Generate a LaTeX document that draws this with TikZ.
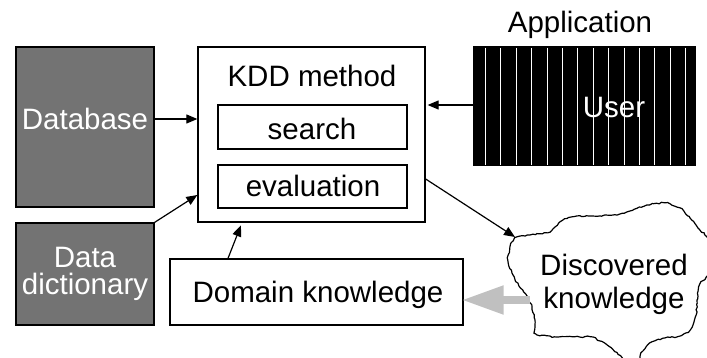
\documentclass[tikz,border=0pt]{standalone}
\usepackage{fontspec}
\setmainfont{Liberation Sans}
\usetikzlibrary{arrows.meta,decorations.pathmorphing}

\definecolor{boxgray}{RGB}{115,115,115}
\definecolor{arrowgray}{RGB}{192,192,192}

\begin{document}
\begin{tikzpicture}[x=1pt,y=1pt,yscale=-1,
  every node/.style={font=\fontsize{29.5}{33}\selectfont},
  box/.style={draw,line width=1.3pt,inner sep=0pt},
  darkbox/.style={box,fill=boxgray},
  conn/.style={line width=1.2pt,-{Triangle[length=11pt,width=9pt]}},
  backarrow/.style={arrowgray,line width=8pt,-{Triangle[length=42pt,width=27pt]}}
]
\clip (0,0) rectangle (707,358);

%Shape: Rectangle (Database)
\node[darkbox,minimum width=138pt,minimum height=160pt] (db) at (85,127) {};
%Shape: Rectangle (Data dictionary)
\node[darkbox,minimum width=138pt,minimum height=102pt,text=white,align=center] (dd) at (85,274) {Data\\[-6pt]dictionary};
%Shape: Rectangle (KDD method)
\node[box,minimum width=227pt,minimum height=175pt] (kdd) at (311.5,134.5) {};
%Shape: Rectangle (search)
\node[box,minimum width=189pt,minimum height=44pt] (srch) at (312.5,127) {};
%Shape: Rectangle (evaluation)
\node[box,minimum width=189pt,minimum height=43pt] (eval) at (312.5,186.5) {};
%Shape: Rectangle (Domain knowledge)
\node[box,minimum width=293pt,minimum height=66pt] (dom) at (316.5,292) {};
%Shape: Rectangle (User)
\node[draw,fill=black,line width=1pt,minimum width=222pt,minimum height=119pt] (user) at (584,106.5) {};
\foreach \k in {0,...,13}
  \draw[white,line width=1.1pt] ({485.5+15.4*\k},48) -- ({485.5+15.4*\k},165);

%Shape: Cloud (Discovered knowledge)
\draw[line width=1.2pt,fill=white,decorate,decoration={random steps,segment length=2.5pt,amplitude=0.7pt}]
  plot[smooth cycle,tension=0.4] coordinates {(515,238) (530,235) (550,232) (560,222) (572,217)
  (592,216) (617,215) (630,211) (647,205) (665,203) (680,208) (690,218) (698,228) (708,238)
  (714,256) (708,275) (700,284) (697,300) (696,315) (690,330) (680,336) (665,338) (652,342)
  (643,351) (640,358) (636,368) (627,368) (622,358) (610,347) (600,341) (590,337) (557,337)
  (536,334) (535,322) (532,307) (527,296) (519,286) (512,273) (508,260) (510,247)};
\coordinate (dkin) at (515,237);
\coordinate (dkout) at (530,300);

% Text Node
\node[anchor=base,text=white] (dbtext) at (85,130) {Database};
% Text Node
\node[anchor=base] (kddtext) at (312,87) {KDD method};
% Text Node
\node[anchor=base] (srchtext) at (312,140) {search};
% Text Node
\node[anchor=base] (evaltext) at (313,197) {evaluation};
% Text Node
\node[anchor=base] (domtext) at (318,302) {Domain knowledge};
% Text Node
\node[anchor=base,text=white] (usertext) at (614,118) {User};
% Text Node
\node[anchor=base] (apptext) at (580,33) {Application};
% Text Node
\node[align=center] (dktext) at (614,284) {Discovered\\knowledge};

%Straight Lines
\draw[conn] (db.east |- 0,119) -- (kdd.west |- 0,119);
\draw[conn] (dd.north east) -- (kdd.west |- 0,195);
\draw[conn,shorten >=3pt] (dom.north west -| 228,0) -- (kdd.south west -| 242,0);
\draw[conn,shorten >=2pt] (user.west |- 0,105) -- (kdd.east |- 0,105);
\draw[conn] (kdd.east |- 0,179) -- (dkin);
\draw[backarrow,shorten >=-2pt] (dkout) -- (dom.east |- 0,300);

\end{tikzpicture}
\end{document}
